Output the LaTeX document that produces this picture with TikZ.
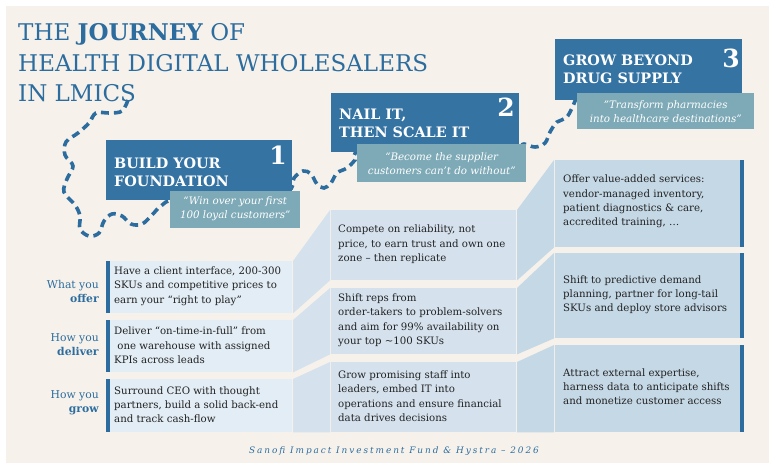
\documentclass[tikz,border=0pt]{standalone}
\usepackage{fontspec}
\setmainfont{DejaVu Serif}
\definecolor{cream}{HTML}{F6F2EB}
\definecolor{dblue}{HTML}{3573A3}
\definecolor{tblue}{HTML}{2C6C9E}
\definecolor{teal}{HTML}{7EAAB8}
\definecolor{cA}{HTML}{E3EDF5}
\definecolor{cB}{HTML}{D5E2EE}
\definecolor{cC}{HTML}{C5D8E6}
\definecolor{ink}{HTML}{222222}
\tikzset{
  hbox/.style={fill=dblue, anchor=north west, inner sep=0pt},
  qbox/.style={fill=teal, anchor=north west, inner sep=0pt},
  htext/.style={anchor=base west, inner sep=0pt, text=white, font=\fontsize{14.4}{17.5}\selectfont\bfseries, align=left},
  hnum/.style={anchor=base east, inner sep=0pt, text=white, font=\fontsize{25}{25}\selectfont\bfseries},
  qtext/.style={inner sep=0pt, text=white, font=\fontsize{10.3}{14}\selectfont\itshape, align=center},
  cell/.style={anchor=north west, inner sep=0pt},
  bar/.style={fill=tblue, anchor=north west, inner sep=0pt, minimum width=4pt},
  body/.style={anchor=west, inner sep=0pt, text=ink, font=\fontsize{10.2}{14.3}\selectfont, align=left},
  lab/.style={anchor=base east, inner sep=0pt, text=tblue, font=\fontsize{10.8}{14.5}\selectfont, align=right},
  path/.style={draw=tblue, line width=3.6pt, dash pattern=on 8pt off 5pt},
}
\begin{document}
\begin{tikzpicture}[x=1pt,y=-1pt]
\useasboundingbox (0,0) rectangle (775,471);
\fill[white] (0,0) rectangle (775,471);
\fill[cream] (6,6) rectangle (769,463);

% title
\node[anchor=base west, inner sep=0pt, text=tblue, font=\fontsize{23}{30}\selectfont] (t1) at (18,40) {THE \textbf{JOURNEY} OF};
\node[anchor=base west, inner sep=0pt, text=tblue, font=\fontsize{23}{30}\selectfont] (t2) at (18,71) {HEALTH DIGITAL WHOLESALERS};
\node[anchor=base west, inner sep=0pt, text=tblue, font=\fontsize{23}{30}\selectfont] (t3) at (18,101) {IN LMICS};

% dashed journey path
\draw[path] plot[smooth, tension=0.6] coordinates {
 (128,100) (122,111) (110,113) (96,113) (89,123) (78,133) (66,142) (65,155) (73,166)
 (67,179) (64,192) (75,205) (80,216) (80,229) (89,236) (99,233) (104,221) (112,214)
 (122,216) (131,224) (142,224) (152,215) (161,206) (176,200) (230,205) (286,192)
 (294,178) (303,171) (311,174) (317,184) (324,188) (331,183) (337,173) (347,168)
 (355,160) (362,150) (440,135) (512,146) (524,144) (535,147) (545,143) (550,132)
 (557,122) (566,118) (572,108) (577,96)};

% heading 1
\node[hbox, minimum width=186pt, minimum height=60pt] (h1) at (106,140) {};
\node[htext] (h1t) at (114,168) {BUILD YOUR};
\node[htext] (h1u) at (114,186) {FOUNDATION};
\node[hnum] (h1n) at (287,164) {1};
\node[qbox, minimum width=130pt, minimum height=37pt] (q1) at (170,191) {};
\node[qtext] (q1t) at ([yshift=0.5pt]q1.center) {“Win over your first\\100 loyal customers”};

% heading 2
\node[hbox, minimum width=188pt, minimum height=59pt] (h2) at (331,93) {};
\node[htext] (h2t) at (339,119) {NAIL IT,};
\node[htext] (h2u) at (339,137) {THEN SCALE IT};
\node[hnum] (h2n) at (515,116) {2};
\node[qbox, minimum width=169pt, minimum height=38pt] (q2) at (357,144) {};
\node[qtext] (q2t) at (q2.center) {“Become the supplier\\customers can’t do without”};

% heading 3
\node[hbox, minimum width=187pt, minimum height=61pt] (h3) at (555,39) {};
\node[htext] (h3t) at (563,65) {GROW BEYOND};
\node[htext] (h3u) at (563,83) {DRUG SUPPLY};
\node[hnum] (h3n) at (740,67) {3};
\node[qbox, minimum width=177pt, minimum height=36pt] (q3) at (577,93) {};
\node[qtext] (q3t) at (q3.center) {"Transform pharmacies\\into healthcare destinations"};

% column 1
\node[cell, fill=cA, minimum width=182pt, minimum height=52pt] (a1) at (110,261) {};
\node[cell, fill=cA, minimum width=182pt, minimum height=52pt] (a2) at (110,320) {};
\node[cell, fill=cA, minimum width=182pt, minimum height=53pt] (a3) at (110,379) {};
\node[bar, minimum height=52pt] (b1) at (105.5,261) {};
\node[bar, minimum height=52pt] (b2) at (105.5,320) {};
\node[bar, minimum height=53pt] (b3) at (105.5,379) {};

% column 2
\node[cell, fill=cB, minimum width=185pt, minimum height=70pt] (m1) at (331,210) {};
\node[cell, fill=cB, minimum width=185pt, minimum height=66pt] (m2) at (331,288) {};
\node[cell, fill=cB, minimum width=185pt, minimum height=70pt] (m3) at (331,362) {};

% column 3
\node[cell, fill=cC, minimum width=185pt, minimum height=87pt] (c1) at (555,160) {};
\node[cell, fill=cC, minimum width=185pt, minimum height=85pt] (c2) at (555,253) {};
\node[cell, fill=cC, minimum width=185pt, minimum height=87pt] (c3) at (555,345) {};
\node[bar, minimum height=87pt] (d1) at (740,160) {};
\node[bar, minimum height=85pt] (d2) at (740,253) {};
\node[bar, minimum height=87pt] (d3) at (740,345) {};

% connectors
\foreach \p/\q in {a1/m1,a2/m2,a3/m3}
  \fill[cB] ([xshift=0.6pt]\p.north east) -- ([xshift=-1pt]\q.north west) -- ([xshift=-1pt]\q.south west) -- ([xshift=0.6pt]\p.south east) -- cycle;
\foreach \p/\q in {m1/c1,m2/c2,m3/c3}
  \fill[cC] ([xshift=0.6pt]\p.north east) -- ([xshift=-1pt]\q.north west) -- ([xshift=-1pt]\q.south west) -- ([xshift=0.6pt]\p.south east) -- cycle;

% row labels
\node[lab] (l1a) at (99,288) {What you};
\node[lab] (l1b) at (99,302) {\textbf{offer}};
\node[lab] (l2a) at (99,341) {How you};
\node[lab] (l2b) at (99,355) {\textbf{deliver}};
\node[lab] (l3a) at (99,398) {How you};
\node[lab] (l3b) at (99,412) {\textbf{grow}};

% texts
\node[body] (ta1) at ([xshift=4pt,yshift=1pt]a1.west) {Have a client interface, 200-300\\SKUs and competitive prices to\\earn your “right to play”};
\node[body] (ta2) at ([xshift=4pt,yshift=1pt]a2.west) {Deliver “on-time-in-full” from\\\ one warehouse with assigned\\KPIs across leads};
\node[body] (ta3) at ([xshift=4pt,yshift=1pt]a3.west) {Surround CEO with thought\\partners, build a solid back-end\\and track cash-flow};
\node[body] (tm1) at ([xshift=7pt,yshift=1pt]m1.west) {Compete on reliability, not\\price, to earn trust and own one\\zone – then replicate};
\node[body] (tm2) at ([xshift=7pt,yshift=1pt]m2.west) {Shift reps from\\order-takers to problem-solvers\\and aim for 99\% availability on\\your top \textasciitilde100 SKUs};
\node[body] (tm3) at ([xshift=7pt,yshift=1pt]m3.west) {Grow promising staff into\\leaders, embed IT into\\operations and ensure financial\\data drives decisions};
\node[body] (tc1) at ([xshift=8pt,yshift=2pt]c1.west) {Offer value-added services:\\vendor-managed inventory,\\patient diagnostics \& care,\\accredited training, …};
\node[body] (tc2) at ([xshift=8pt,yshift=1pt]c2.west) {Shift to predictive demand\\planning, partner for long-tail\\SKUs and deploy store advisors};
\node[body] (tc3) at ([xshift=8pt,yshift=2pt]c3.west) {Attract external expertise,\\harness data to anticipate shifts\\and monetize customer access};

% footer
\node[anchor=base, inner sep=0pt, text=tblue, font=\fontsize{8.9}{10}\selectfont\itshape\addfontfeature{LetterSpace=22}] (foot) at (394,453) {Sanofi Impact Investment Fund \& Hystra – 2026};
\end{tikzpicture}
\end{document}
